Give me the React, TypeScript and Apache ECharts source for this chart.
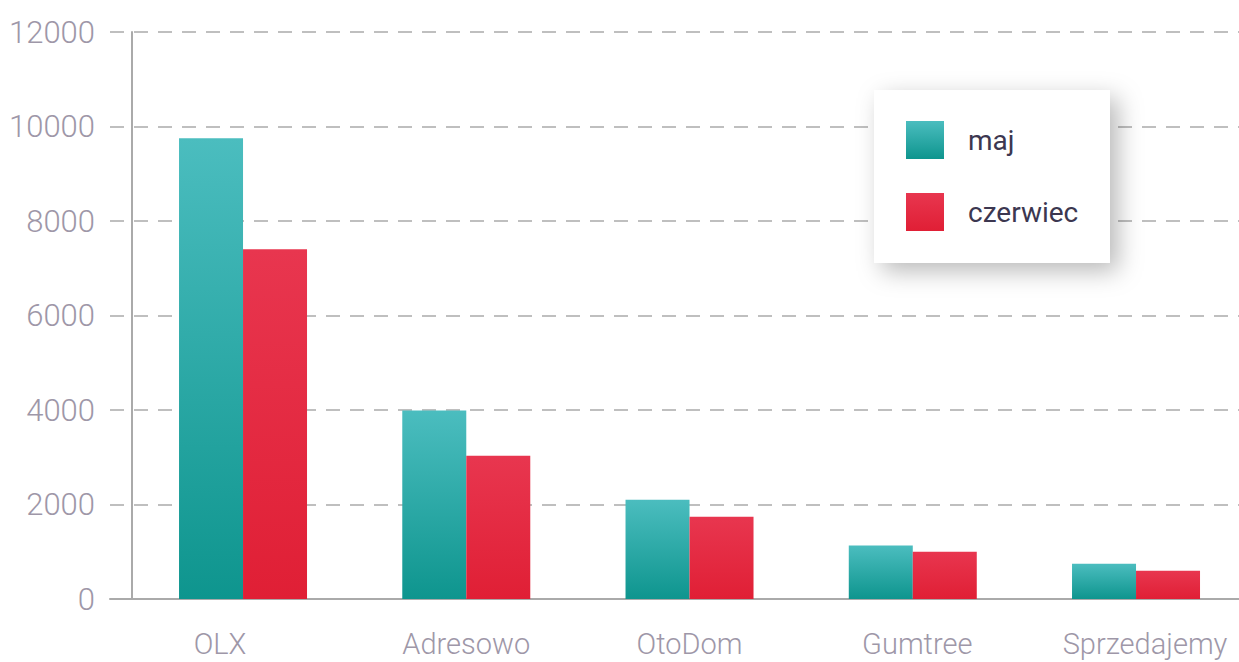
import React, { useEffect, useRef } from "react";
import * as echarts from "echarts";

const categories = ["OLX", "Adresowo", "OtoDom", "Gumtree", "Sprzedajemy"];
const seriesNames = ["maj", "czerwiec"];
const majValues = [9750, 3990, 2100, 1130, 745];
const czerwiecValues = [7400, 3030, 1740, 1000, 600];

const axisFont = "Roboto, 'Noto Sans', sans-serif";
const labelColor = "#9E97A8";
const lineColor = "#AAAAAA";
const CHART_W = 1260;

// small per-label nudges seen in the reference
const labelPads: Record<string, number[]> = {
  OLX: [0, 46, 0, 0],
  Gumtree: [0, 0, 0, 9],
  Sprzedajemy: [0, 0, 0, 18],
};

function grad(top: string, bottom: string) {
  return new echarts.graphic.LinearGradient(0, 0, 0, 1, [
    { offset: 0, color: top },
    { offset: 1, color: bottom },
  ]);
}

export default function App() {
  const ref = useRef<HTMLDivElement>(null);
  useEffect(() => {
    if (!ref.current) return;
    const chart = echarts.init(ref.current, null, { renderer: "svg" });
    const labelledCats = categories.map((c) =>
      labelPads[c] ? { value: c, textStyle: { padding: labelPads[c] } } : c
    );
    chart.setOption({
      animation: false,
      backgroundColor: "#ffffff",
      grid: [
        { left: 110, right: CHART_W - 1247.65, top: 32, bottom: 63 },
        { left: 131.4, right: CHART_W - 1247.65, top: 32, bottom: 63 },
      ],
      xAxis: [
        {
          type: "category",
          gridIndex: 0,
          data: categories,
          axisLine: { show: true, lineStyle: { color: lineColor, width: 2 } },
          axisTick: { show: false },
          axisLabel: { show: false },
          splitLine: { show: false },
        },
        {
          type: "category",
          gridIndex: 1,
          data: labelledCats,
          axisLine: { show: false },
          axisTick: { show: false },
          axisLabel: {
            interval: 0,
            margin: 30,
            fontSize: 29,
            fontWeight: 300,
            fontFamily: axisFont,
            color: labelColor,
          },
        },
      ],
      yAxis: [
        {
          type: "value",
          gridIndex: 0,
          min: 0,
          max: 12000,
          interval: 2000,
          axisLine: { show: false },
          axisTick: { show: false },
          axisLabel: {
            margin: 15,
            fontSize: 31,
            fontWeight: 300,
            fontFamily: axisFont,
            color: labelColor,
            padding: [0, 0, 8, 0],
            formatter: (v: number) => String(v),
          },
          splitLine: {
            show: true,
            lineStyle: { color: lineColor, width: 1.5, type: [14, 10] },
          },
        },
        {
          type: "value",
          gridIndex: 1,
          min: 0,
          max: 12000,
          interval: 2000,
          axisLine: { show: true, lineStyle: { color: lineColor, width: 2 } },
          axisTick: { show: false },
          axisLabel: { show: false },
          splitLine: { show: false },
        },
      ],
      graphic: [
        {
          type: "rect",
          z: 5,
          shape: { x: 874, y: 90, width: 236, height: 173 },
          style: {
            fill: "#ffffff",
            shadowBlur: 24,
            shadowOffsetX: 8,
            shadowOffsetY: 8,
            shadowColor: "rgba(0,0,0,0.28)",
          },
        },
      ],
      legend: {
        z: 10,
        left: 906,
        top: 121,
        orient: "vertical",
        icon: "rect",
        itemWidth: 38,
        itemHeight: 38,
        itemGap: 34,
        padding: 0,
        data: seriesNames,
        textStyle: {
          fontSize: 28,
          fontWeight: 400,
          fontFamily: axisFont,
          color: "#3C3750",
          padding: [0, 0, 0, 19],
        },
      },
      series: [
        {
          name: seriesNames[0],
          type: "bar",
          xAxisIndex: 1,
          yAxisIndex: 1,
          barWidth: 64,
          barGap: "0%",
          data: majValues,
          itemStyle: { color: grad("#4BBDBF", "#0E958E") },
        },
        {
          name: seriesNames[1],
          type: "bar",
          xAxisIndex: 1,
          yAxisIndex: 1,
          barWidth: 64,
          barGap: "0%",
          data: czerwiecValues,
          itemStyle: { color: grad("#E8364F", "#E01F35") },
        },
      ],
    });
    return () => chart.dispose();
  }, []);
  return (
    <div
      style={{
        position: "fixed",
        left: 0,
        top: 0,
        width: 1239,
        height: 662,
        overflow: "hidden",
        background: "#ffffff",
      }}
    >
      <div ref={ref} style={{ width: CHART_W, height: 662 }} />
    </div>
  );
}
